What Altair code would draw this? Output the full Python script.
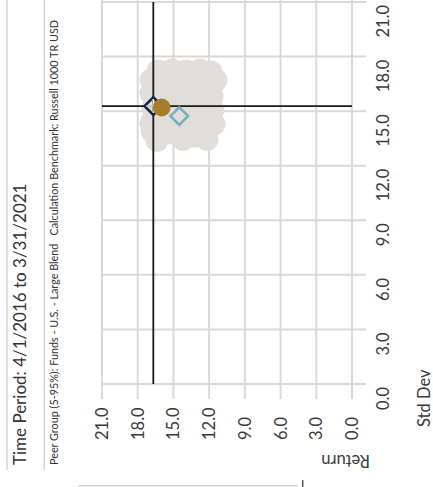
import altair as alt
import pandas as pd

# Tick positions shared by both axes (percent) and their labels
tick_values = [0, 3, 6, 9, 12, 15, 18, 21]
tick_labels = ["0.0", "3.0", "6.0", "9.0", "12.0", "15.0", "18.0", "21.0"]

# Peer group (5-95%) funds: annualized return and standard deviation
peer_return = [16.30, 15.12, 13.94, 12.77, 11.84, 16.88, 11.42, 15.71, 14.36, 13.02,
               16.88, 11.76, 15.62, 14.28, 12.94, 16.72, 11.68, 15.46, 14.11, 12.77,
               16.88, 11.59, 15.62, 14.28, 12.94, 16.38, 15.20, 14.20, 13.19, 12.18, 16.80]
peer_stddev = [17.21, 17.26, 17.21, 17.26, 17.15, 16.71, 16.71, 16.49, 16.49, 16.44,
               16.00, 15.83, 15.67, 15.72, 15.67, 15.17, 15.06, 14.95, 14.90, 14.95,
               14.35, 14.29, 14.18, 14.13, 14.18, 13.40, 13.80, 13.45, 13.63, 13.45, 13.91]

# Highlighted investments
series_names = ["Fund", "Category Average", "Russell 1000 TR USD"]
series_return = [15.99, 14.51, 16.69]
series_stddev = [15.20, 14.73, 15.28]

title_text = "Time Period: 4/1/2016 to 3/31/2021"
subtitle_text = ("Peer Group (5-95%): Funds - U.S. - Large Blend\u2003"
                 "Calculation Benchmark: Russell 1000 TR USD")
x_title = "Return"
y_title = "Std Dev"

FONT = "Lato"
TEXT = "#3a3a3a"
GRID = "#d8d8d8"

peer_df = pd.DataFrame({"ret": peer_return, "sd": peer_stddev})
pts_df = pd.DataFrame({"name": series_names, "ret": series_return, "sd": series_stddev})
tick_df = pd.DataFrame({"ret": tick_values, "sd": tick_values, "label": tick_labels})
one = pd.DataFrame({"k": [0]})

ret_scale = alt.Scale(domain=[0, 21], reverse=True, nice=False, zero=False)
sd_scale = alt.Scale(domain=[0, 21], nice=False, zero=False)

x_enc = alt.X("ret:Q", scale=ret_scale, axis=None)
y_enc = alt.Y("sd:Q", scale=sd_scale, axis=None)

# Grid lines at each tick, running on past the plot edge as tick marks
vgrid = alt.Chart(tick_df).mark_rule(color=GRID, strokeWidth=2).encode(
    x=x_enc, y=alt.value(-2), y2=alt.value(397))
hgrid = alt.Chart(tick_df).mark_rule(color=GRID, strokeWidth=2).encode(
    y=y_enc, x=alt.value(0), x2=alt.value(264))

# Tick labels, rotated to read upward
ret_labels = alt.Chart(tick_df).mark_text(
    angle=270, align="left", baseline="middle", dy=1,
    font=FONT, fontSize=16.5, color=TEXT
).encode(x=x_enc, y=alt.value(438), text="label:N")
sd_labels = alt.Chart(tick_df).mark_text(
    angle=270, align="right", baseline="alphabetic", dx=-3,
    font=FONT, fontSize=16.5, color=TEXT
).encode(y=y_enc, x=alt.value(287), text="label:N")

# Axis titles
ret_title = alt.Chart(one).mark_text(
    text=x_title, angle=180, align="left", baseline="alphabetic",
    font=FONT, fontSize=16.5, color=TEXT
).encode(x=alt.value(268), y=alt.value(453))
sd_title = alt.Chart(one).mark_text(
    text=y_title, angle=270, align="left", baseline="alphabetic",
    font=FONT, fontSize=16.5, color=TEXT
).encode(x=alt.value(328), y=alt.value(425))

# Peer group cloud
peer = alt.Chart(peer_df).mark_circle(size=529, color="#e1dddb", opacity=1).encode(
    x=x_enc, y=y_enc
)

bench = alt.Chart(pts_df).transform_filter(alt.datum.name == series_names[2])
vline = bench.mark_rule(color="#1a1a1a", strokeWidth=1.8).encode(x=x_enc)
hline = bench.mark_rule(color="#1a1a1a", strokeWidth=1.8).encode(y=y_enc)
bench_pt = bench.mark_point(shape="diamond", size=310, filled=False,
                            color="#13233a", strokeWidth=2.6, opacity=1).encode(
    x=x_enc, y=y_enc)
bench_cross = bench.mark_point(shape="M-1,0H1M0,-1V1", size=200, filled=False,
                               color="white", strokeWidth=1.4, opacity=1).encode(
    x=x_enc, y=y_enc)

cat_pt = alt.Chart(pts_df).transform_filter(alt.datum.name == series_names[1]).mark_point(
    shape="diamond", size=310, filled=False, color="#79aebf", strokeWidth=2.6, opacity=1
).encode(x=x_enc, y=y_enc)

fund_pt = alt.Chart(pts_df).transform_filter(alt.datum.name == series_names[0]).mark_circle(
    size=324, color="#a67e2b", opacity=1
).encode(x=x_enc, y=y_enc)

# Header texts, rotated to read upward
title = alt.Chart(one).mark_text(
    text=title_text, angle=270, align="left", baseline="alphabetic",
    font=FONT, fontSize=17, color="#333333"
).encode(x=alt.value(-76), y=alt.value(463))
subtitle = alt.Chart(one).mark_text(
    text=subtitle_text, angle=270, align="left", baseline="alphabetic",
    font=FONT, fontSize=10.8, color="#333333"
).encode(x=alt.value(-44.5), y=alt.value(463))

# Frame lines around the header block
frame_color = "#d4d4d4"
frame1 = alt.Chart(one).mark_rule(color=frame_color, strokeWidth=1.5).encode(
    x=alt.value(-95), y=alt.value(-2), y2=alt.value(468))
frame2 = alt.Chart(one).mark_rule(color=frame_color, strokeWidth=1.5).encode(
    x=alt.value(-57.7), y=alt.value(-2), y2=alt.value(468))
frame3 = alt.Chart(one).mark_rule(color=frame_color, strokeWidth=1.5).encode(
    x=alt.value(-23.7), x2=alt.value(195.7), y=alt.value(483.7))
frame4 = alt.Chart(one).mark_rule(color="#555555", strokeWidth=1.5).encode(
    x=alt.value(200.7), y=alt.value(478), y2=alt.value(487))

chart = alt.layer(
    vgrid, hgrid, peer, vline, hline, bench_pt, bench_cross, cat_pt, fund_pt,
    ret_labels, sd_labels, ret_title, sd_title,
    title, subtitle, frame1, frame2, frame3, frame4,
).properties(
    width=250, height=382,
    autosize=alt.AutoSizeParams(type="none"),
    padding={"left": 102, "top": 2, "right": 81, "bottom": 103},
    background="white",
).configure_view(
    stroke=None
)

chart.save("out.html", embed_options={"renderer": "svg", "actions": False})
